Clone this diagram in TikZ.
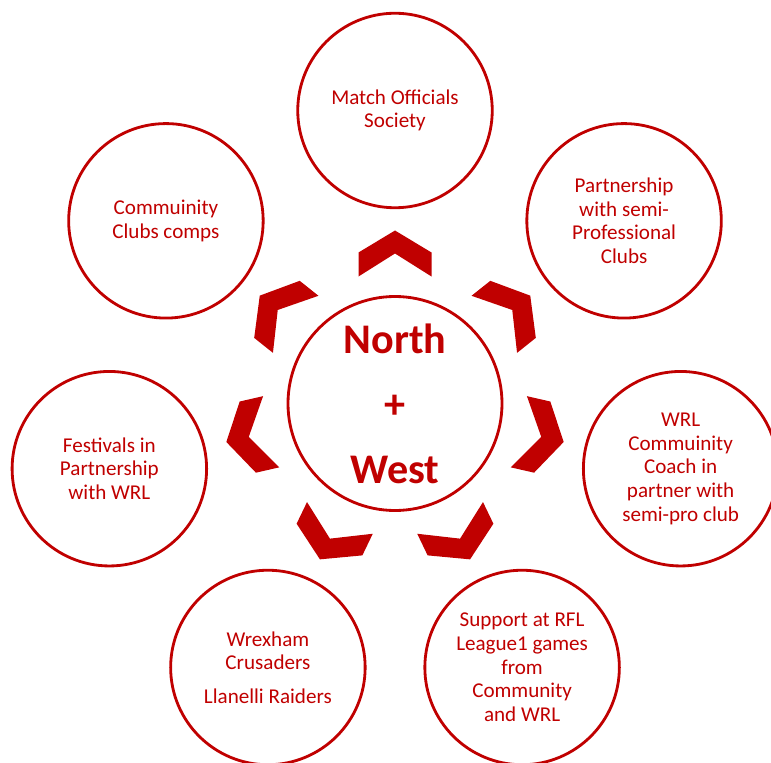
\documentclass[tikz,border=0pt]{standalone}
\usepackage{fontspec}
\setmainfont{Carlito}
\usepackage{tikz}
\usetikzlibrary{calc}
\definecolor{nwred}{RGB}{192,0,0}
\tikzset{
    hub/.style={circle, draw=nwred, line width=1.6pt, minimum size=4.28cm, inner sep=0pt,
        text=nwred, align=center, font=\bfseries\fontsize{24}{37}\selectfont},
    spoke/.style={circle, draw=nwred, line width=1.6pt, minimum size=3.89cm, inner sep=0pt,
        text=nwred, align=center, font=\fontsize{12}{13.5}\selectfont},
    chevron/.style={fill=nwred}
}

\begin{document}
\begin{tikzpicture}
                    \useasboundingbox (-7.9, -7.17) rectangle (7.52, 8.07);
                    \node[hub] (hub) at (0, 0) {North\\+\\West};
                    \node[spoke] (officials) at (90:5.86) {Match Officials\\Society};
                    \node[spoke] (semipro) at (38.57:5.86) {Partnership\\with semi-\\Professional\\Clubs};
                    \node[spoke] (coach) at (-12.86:5.86) {WRL\\Commuinity\\Coach in\\partner with\\semi-pro club};
                    \node[spoke] (league) at (-64.29:5.86) {Support at RFL\\League1 games\\from\\Community\\and WRL};
                    \node[spoke] (teams) at (-115.71:5.86) {Wrexham\\Crusaders\\[5.5pt]Llanelli Raiders};
                    \node[spoke] (festivals) at (-167.14:5.86) {Festivals in\\Partnership\\with WRL};
                    \node[spoke] (comps) at (141.43:5.86) {Commuinity\\Clubs comps};

                    % chevrons pointing out from the hub
                    \foreach \i in {0, ..., 6}
                        \fill[chevron, rotate around={90 - \i*360/7:(hub.center)}]
                        (3.46, 0) -- (3.02, 0.73) -- (2.54, 0.73) -- (3.0, 0)
                        -- (2.54, -0.73) -- (3.02, -0.73) -- cycle;
                \end{tikzpicture}
\end{document}
